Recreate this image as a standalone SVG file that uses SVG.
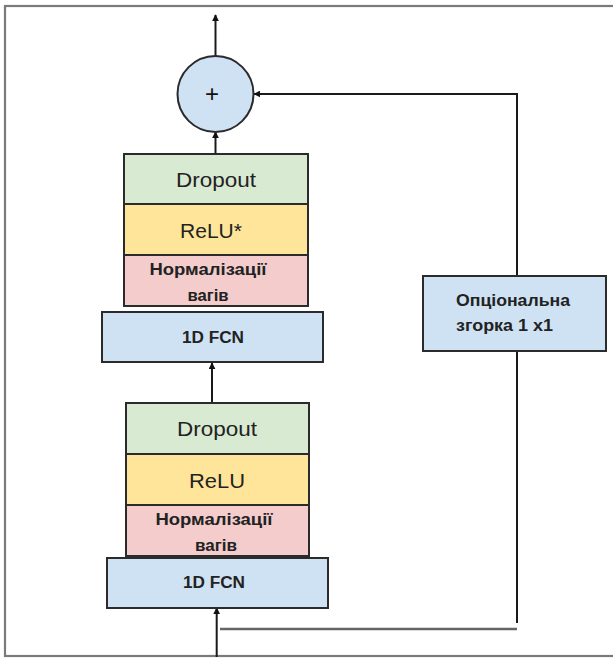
<svg xmlns="http://www.w3.org/2000/svg" width="613" height="658" viewBox="0 0 613 658">
  <defs>
    <marker id="ah" viewBox="0 0 10 10" refX="9" refY="5" markerWidth="7" markerHeight="7" markerUnits="userSpaceOnUse" orient="auto">
      <path d="M0,0 L10,5 L0,10 z" fill="#111"/>
    </marker>
    <style>
      .box{stroke:#2b2b2b;stroke-width:2}
      .drop{fill:#d9ead3}
      .relu{fill:#ffe599}
      .norm{fill:#f4cccc}
      .blue{fill:#cfe2f3}
      .big{font-family:"Liberation Sans",Arial,sans-serif;font-size:21px;fill:#222;text-anchor:middle}
      .sm{font-family:"Liberation Sans",Arial,sans-serif;font-size:16px;font-weight:bold;fill:#222;text-anchor:middle}
      .opt{font-family:"Liberation Sans",Arial,sans-serif;font-size:17px;font-weight:bold;fill:#222}
      .ln{fill:none;stroke:#1a1a1a;stroke-width:2}
    </style>
  </defs>
  <rect x="5" y="6" width="640" height="650" fill="none" stroke="#7a7a7a" stroke-width="2.2"/>

  <g id="connectors">
    <line class="ln" x1="215.5" y1="56" x2="215.5" y2="15" marker-end="url(#ah)"/>
    <line class="ln" x1="215.5" y1="154" x2="215.5" y2="132" marker-end="url(#ah)"/>
    <line class="ln" x1="212" y1="403" x2="212" y2="363" marker-end="url(#ah)"/>
    <line class="ln" x1="216.7" y1="657" x2="216.7" y2="608" marker-end="url(#ah)"/>
    <path d="M220 629 H517" fill="none" stroke="#666" stroke-width="2.5"/>
    <path class="ln" d="M517 623 V351"/>
    <path class="ln" d="M517 276 V94 H254" marker-end="url(#ah)"/>
  </g>

  <g id="sum">
    <circle cx="215.5" cy="94" r="38" fill="#cfe2f3" stroke="#2b2b2b" stroke-width="2"/>
    <text x="212" y="102" style="font-family:'Liberation Sans',Arial,sans-serif;font-size:24px;fill:#111;text-anchor:middle">+</text>
  </g>

  <g id="dropout2">
    <rect class="box drop" x="124" y="154" width="184" height="50"/>
    <text class="big" x="216" y="187" textLength="80" lengthAdjust="spacingAndGlyphs">Dropout</text>
  </g>
  <g id="relu2">
    <rect class="box relu" x="124" y="204" width="184" height="51"/>
    <text class="big" x="211" y="238">ReLU*</text>
  </g>
  <g id="norm2">
    <rect class="box norm" x="124" y="255" width="184" height="51"/>
    <text class="sm" x="208" y="275" textLength="117" lengthAdjust="spacingAndGlyphs">Нормалізації</text>
    <text class="sm" x="208" y="301" textLength="41" lengthAdjust="spacingAndGlyphs">вагів</text>
  </g>
  <g id="fcn2">
    <rect class="box blue" x="102" y="312" width="221" height="50"/>
    <text class="sm" x="213" y="343" textLength="62" lengthAdjust="spacingAndGlyphs">1D FCN</text>
  </g>

  <g id="dropout1">
    <rect class="box drop" x="126" y="403" width="183" height="51"/>
    <text class="big" x="217" y="436" textLength="80" lengthAdjust="spacingAndGlyphs">Dropout</text>
  </g>
  <g id="relu1">
    <rect class="box relu" x="126" y="454" width="183" height="51"/>
    <text class="big" x="217" y="488" textLength="56" lengthAdjust="spacingAndGlyphs">ReLU</text>
  </g>
  <g id="norm1">
    <rect class="box norm" x="126" y="505" width="183" height="51"/>
    <text class="sm" x="214" y="525" textLength="117" lengthAdjust="spacingAndGlyphs">Нормалізації</text>
    <text class="sm" x="216" y="551" textLength="42" lengthAdjust="spacingAndGlyphs">вагів</text>
  </g>
  <g id="fcn1">
    <rect class="box blue" x="107" y="558" width="221" height="50"/>
    <text class="sm" x="214" y="588" textLength="62" lengthAdjust="spacingAndGlyphs">1D FCN</text>
  </g>

  <g id="optional">
    <rect class="box blue" x="423" y="276" width="183" height="75"/>
    <text class="opt" x="456" y="306" textLength="114" lengthAdjust="spacingAndGlyphs">Опціональна</text>
    <text class="opt" x="456" y="331" textLength="97" lengthAdjust="spacingAndGlyphs">згорка 1 x1</text>
  </g>
</svg>
